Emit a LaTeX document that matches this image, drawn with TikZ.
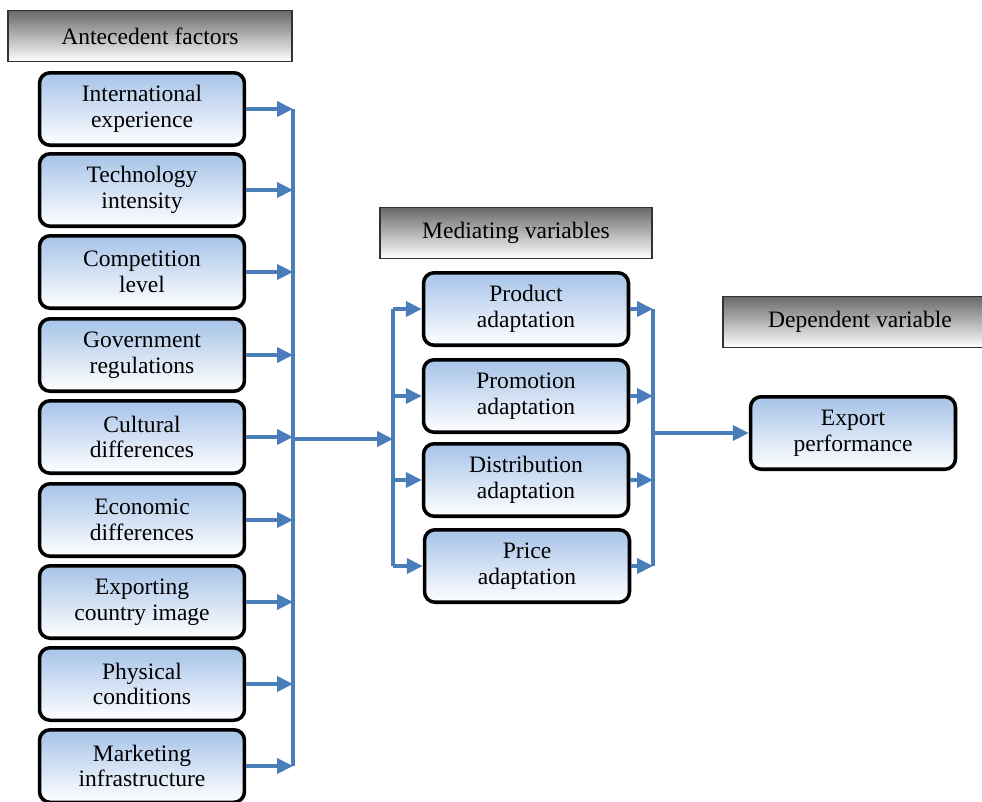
\documentclass[tikz,border=0pt]{standalone}
\usepackage{fontspec}
\setmainfont{Liberation Serif}
\usetikzlibrary{arrows.meta}

\begin{document}
\begin{tikzpicture}[x=0.02cm,y=-0.02cm,font=\fontsize{13.4}{14.7}\selectfont,>={Triangle[length=9pt,width=8.5pt]}]

\useasboundingbox (0,0) rectangle (982,801);
\clip (0,0) rectangle (982,801);

\definecolor{def_node_top}{RGB}{166,195,232}
\definecolor{def_node_bottom}{RGB}{255,255,255}
\definecolor{def_node_text}{RGB}{0,0,0}
\definecolor{def_node_draw}{RGB}{0,0,0}
\tikzstyle{factor_node_style}=[rectangle, rounded corners=6pt, draw=def_node_draw, top color=def_node_top, bottom color=def_node_bottom, text=def_node_text, line width=2pt, minimum width=4.1cm, minimum height=1.45cm, align=center, inner sep=0pt]

\definecolor{def_head_top}{RGB}{105,105,105}
\definecolor{def_head_bottom}{RGB}{255,255,255}
\definecolor{def_head_draw}{RGB}{50,50,50}
\tikzstyle{header_node_style}=[rectangle, draw=def_head_draw, top color=def_head_top, bottom color=def_head_bottom, text=def_node_text, line width=1pt, minimum height=1.02cm, inner sep=0pt]

\definecolor{def_edge_draw}{RGB}{74,126,187}
\tikzstyle{default_edge_style}=[draw=def_edge_draw, line width=2pt]

\node(antecedent) at (150,36) [header_node_style, minimum width=5.68cm] {Antecedent factors};

\node(mediating) at (516,233) [header_node_style, minimum width=5.44cm] {Mediating variables};

\node(dependent) at (860,322) [header_node_style, minimum width=5.48cm] {Dependent variable};

\node(international) at (142,109) [factor_node_style] {International\\experience};

\node(technology) at (142,190) [factor_node_style] {Technology\\intensity};

\node(competition) at (142,272) [factor_node_style] {Competition\\level};

\node(government) at (142,355) [factor_node_style] {Government\\regulations};

\node(cultural) at (142,437) [factor_node_style] {Cultural\\differences};

\node(economic) at (142,520) [factor_node_style] {Economic\\differences};

\node(exporting) at (142,602) [factor_node_style] {Exporting\\country image};

\node(physical) at (142,684) [factor_node_style] {Physical\\conditions};

\node(marketing) at (142,766) [factor_node_style] {Marketing\\infrastructure};

\node(product) at (526,309) [factor_node_style] {Product\\adaptation};

\node(promotion) at (526,396) [factor_node_style] {Promotion\\adaptation};

\node(distribution) at (526,480) [factor_node_style] {Distribution\\adaptation};

\node(price) at (527,566) [factor_node_style] {Price\\adaptation};

\node(export) at (853,433) [factor_node_style] {Export\\performance};

\coordinate(left_bar) at (293,0);
\coordinate(mid_bar) at (393,0);
\coordinate(right_bar) at (653,0);
\coordinate(left_join) at (293,439);
\coordinate(mid_join) at (393,439);

\draw[default_edge_style](international.east -| left_bar) -- (marketing.east -| left_bar);
\draw[->,default_edge_style](international.east) -- (international.east -| left_bar);
\draw[->,default_edge_style](technology.east) -- (technology.east -| left_bar);
\draw[->,default_edge_style](competition.east) -- (competition.east -| left_bar);
\draw[->,default_edge_style](government.east) -- (government.east -| left_bar);
\draw[->,default_edge_style](cultural.east) -- (cultural.east -| left_bar);
\draw[->,default_edge_style](economic.east) -- (economic.east -| left_bar);
\draw[->,default_edge_style](exporting.east) -- (exporting.east -| left_bar);
\draw[->,default_edge_style](physical.east) -- (physical.east -| left_bar);
\draw[->,default_edge_style](marketing.east) -- (marketing.east -| left_bar);

\draw[->,default_edge_style](left_join) -- (mid_join);

\draw[default_edge_style](product.west -| mid_bar) -- (price.west -| mid_bar);
\draw[->,default_edge_style](product.west -| mid_bar) -- (product.west);
\draw[->,default_edge_style](promotion.west -| mid_bar) -- (promotion.west);
\draw[->,default_edge_style](distribution.west -| mid_bar) -- (distribution.west);
\draw[->,default_edge_style](price.west -| mid_bar) -- (price.west);

\draw[default_edge_style](product.east -| right_bar) -- (price.east -| right_bar);
\draw[->,default_edge_style](product.east) -- (product.east -| right_bar);
\draw[->,default_edge_style](promotion.east) -- (promotion.east -| right_bar);
\draw[->,default_edge_style](distribution.east) -- (distribution.east -| right_bar);
\draw[->,default_edge_style](price.east) -- (price.east -| right_bar);

\draw[->,default_edge_style](export.west -| right_bar) -- (export.west);

\end{tikzpicture}
\end{document}
